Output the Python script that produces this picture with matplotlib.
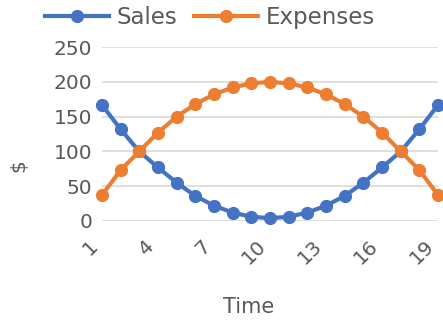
import matplotlib
matplotlib.use("Agg")
import matplotlib.pyplot as plt

time = list(range(1, 20))
sales = [167, 132, 100, 77, 55, 36, 22, 12, 6, 4, 6, 12, 22, 36, 55, 77, 100, 132, 167]
expenses = [37, 73, 100, 127, 150, 168, 182, 192, 198, 200, 198, 192, 182, 168, 150, 127, 100, 73, 37]
xticks = [1, 4, 7, 10, 13, 16, 19]
yticks = [0, 50, 100, 150, 200, 250]

txt = "#595959"
fig = plt.figure(figsize=(4.43, 3.23), dpi=100)
ax = fig.add_axes([0.230, 0.316, 0.759, 0.538])
ax.plot(time, sales, color="#4472C4", lw=3.0, marker="o", ms=8.5, label="Sales", clip_on=False, zorder=3)
ax.plot(time, expenses, color="#ED7D31", lw=3.0, marker="o", ms=8.5, label="Expenses", clip_on=False, zorder=3)
ax.set_xlim(1, 19)
ax.set_ylim(0, 250)
ax.set_xticks(xticks)
ax.set_yticks(yticks)
ax.grid(axis="y", color="#D9D9D9", lw=1.2)
ax.set_axisbelow(True)
for s in ax.spines.values():
    s.set_visible(False)
ax.tick_params(length=0, labelsize=14.5, colors=txt)
ax.tick_params(axis="y", pad=7)
ax.tick_params(axis="x", pad=11)
plt.setp(ax.get_xticklabels(), rotation=45, ha="right", va="top")
ax.set_xlabel("Time", fontsize=15, color=txt)
ax.xaxis.set_label_coords(0.435, -0.44)
ax.set_ylabel("$", fontsize=14.5, color=txt)
ax.yaxis.set_label_coords(-0.22, 0.32)
fig.legend(loc="center", bbox_to_anchor=(0.474, 0.947), ncol=2, frameon=False,
           fontsize=16.5, handlelength=2.8, columnspacing=0.7, handletextpad=0.35, labelcolor=txt)
fig.savefig("out.png", dpi=100)
